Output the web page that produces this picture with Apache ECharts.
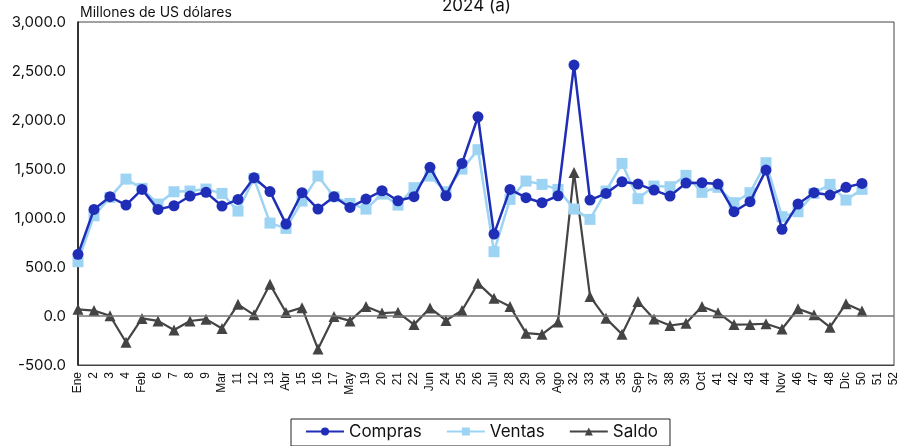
<!DOCTYPE html>
<html>
<head>
<meta charset="utf-8">
<script src="https://cdn.jsdelivr.net/npm/echarts@6/dist/echarts.min.js"></script>
<style>
html,body{margin:0;padding:0;background:#fff;}
#c{width:901px;height:446px;}
</style>
</head>
<body>
<div id="c"></div>
<script>
const weeks = ['Ene','2','3','4','Feb','6','7','8','9','Mar','11','12','13','Abr','15','16','17','May','19','20','21','22','Jun','24','25','26','Jul','28','29','30','Ago','32','33','34','35','Sep','37','38','39','Oct','41','42','43','44','Nov','46','47','48','Dic','50','51','52'];
const compras = [629,1088,1217,1132,1292,1088,1125,1224,1262,1122,1190,1411,1270,938,1258,1091,1217,1108,1193,1278,1176,1217,1517,1227,1557,2033,836,1292,1207,1156,1227,2560,1183,1251,1370,1346,1285,1224,1356,1360,1346,1064,1166,1489,884,1142,1258,1234,1313,1353,null,null];
const ventas = [554,1023,1210,1397,1302,1142,1268,1275,1295,1251,1071,1404,948,894,1173,1428,1217,1149,1091,1244,1132,1309,1428,1268,1499,1697,656,1190,1377,1343,1292,1091,986,1275,1557,1197,1326,1319,1435,1262,1313,1156,1258,1564,1013,1064,1251,1343,1183,1292,null,null];
const saldo = [68,55,3,-268,-25,-50,-143,-51,-32,-127,119,12,323,35,85,-337,-4,-50,98,30,38,-88,82,-45,56,333,180,98,-175,-187,-62,1465,200,-24,-187,147,-30,-97,-75,96,34,-88,-86,-79,-133,74,14,-114,126,52,null,null];
const yTicks = [-500,0,500,1000,1500,2000,2500,3000];

const chart = echarts.init(document.getElementById('c'));
const fmt = v => v.toLocaleString('en-US',{minimumFractionDigits:1,maximumFractionDigits:1});
chart.setOption({
  animation:false,
  title:{text:'2024 (a)', left:437, top:-8, textStyle:{fontFamily:'Inter', fontWeight:'normal', fontSize:17, color:'#111'}},
  graphic:[{type:'text', left:80, top:6, style:{text:'Millones de US dólares', font:'14px Inter', fill:'#111'}}],
  legend:{
    left:291, top:419, data:['Compras','Ventas','Saldo'],
    borderColor:'#222', borderWidth:1, padding:[4,12,6,14], itemGap:24, itemWidth:38, itemHeight:10,
    textStyle:{fontFamily:'Inter', fontSize:17, color:'#111'}
  },
  grid:{left:78, right:7, top:22, bottom:81, show:true, borderColor:'#444', borderWidth:1},
  xAxis:{
    type:'category', data:weeks, boundaryGap:false,
    axisLine:{onZero:false, lineStyle:{color:'#444', width:1}},
    axisTick:{show:false},
    axisLabel:{rotate:90, interval:0, fontFamily:'Liberation Sans', fontSize:12, color:'#111', margin:7}
  },
  yAxis:{
    type:'value', min:yTicks[0], max:yTicks[yTicks.length-1], interval:500,
    axisLine:{show:true, lineStyle:{color:'#111', width:1.5}},
    axisTick:{show:false},
    splitLine:{show:false},
    axisLabel:{formatter:fmt, fontFamily:'Inter', fontSize:15, color:'#111', margin:12}
  },
  series:[
    {name:'Compras', type:'line', data:compras, symbol:'circle', symbolSize:11, z:4,
     itemStyle:{color:'#1f2db7'}, lineStyle:{color:'#1f2db7', width:2.5}},
    {name:'Ventas', type:'line', data:ventas, symbol:'rect', symbolSize:11, z:3,
     itemStyle:{color:'#9dd3f3'}, lineStyle:{color:'#9dd3f3', width:2.5}},
    {name:'Saldo', type:'line', data:saldo, symbol:'triangle', symbolSize:11, z:2,
     itemStyle:{color:'#444'}, lineStyle:{color:'#444', width:2.2},
     markLine:{silent:true, symbol:'none', label:{show:false}, lineStyle:{color:'#777', type:'solid', width:1.5}, data:[{yAxis:0}]}}
  ]
});
</script>
</body>
</html>
